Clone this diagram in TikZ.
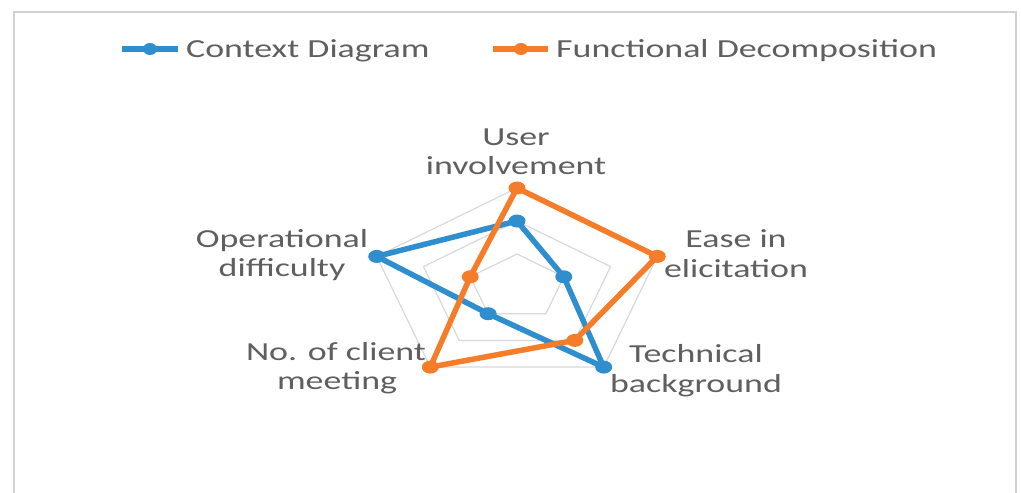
\documentclass[tikz,border=0pt]{standalone}
\usepackage{fontspec}
\setmainfont{Carlito}
\newfontfamily\labfont[FakeStretch=1.38]{Carlito}
\usetikzlibrary{shapes.geometric}
\definecolor{cdblue}{RGB}{46,142,206}
\definecolor{fdorange}{RGB}{245,125,42}
\definecolor{txtgray}{RGB}{95,95,95}
\definecolor{gridgray}{RGB}{217,217,217}
\definecolor{framegray}{RGB}{210,210,210}
\tikzset{
  lab/.style={font=\labfont\fontsize{26}{30}\selectfont, text=txtgray, align=center, inner sep=0pt},
  gridline/.style={draw=gridgray, line width=1.2pt, line join=miter},
  serblue/.style={draw=cdblue, line width=5.5pt, line join=round},
  serorange/.style={draw=fdorange, line width=5.5pt, line join=round},
  mkblue/.style={ellipse, fill=cdblue, minimum width=17pt, minimum height=13pt, inner sep=0pt},
  mkorange/.style={ellipse, fill=fdorange, minimum width=17pt, minimum height=13pt, inner sep=0pt},
  legmkblue/.style={ellipse, fill=cdblue, minimum width=14pt, minimum height=12pt, inner sep=0pt},
  legmkorange/.style={ellipse, fill=fdorange, minimum width=14pt, minimum height=12pt, inner sep=0pt},
}
\begin{document}
\begin{tikzpicture}[x=1pt,y=-1pt]
\useasboundingbox (0,0) rectangle (1021,493);
\fill[white] (0,0) rectangle (1021,493);
% frame
\draw[framegray, line width=2.5pt] (14,12) rectangle (1016,510);
% geometry: centre (517,287), Rx=147.5, Ry=99, three levels
\def\cx{517}\def\cy{287}\def\rx{49.17}\def\ry{33}
% axis angles: user 90, ease 18, tech -54, client -126, oper 162
\foreach \lev in {1,2,3}{
  \draw[gridline] ({\cx+\rx*\lev*cos(90)},{\cy-\ry*\lev*sin(90)})
    -- ({\cx+\rx*\lev*cos(18)},{\cy-\ry*\lev*sin(18)})
    -- ({\cx+\rx*\lev*cos(-54)},{\cy-\ry*\lev*sin(-54)})
    -- ({\cx+\rx*\lev*cos(-126)},{\cy-\ry*\lev*sin(-126)})
    -- ({\cx+\rx*\lev*cos(162)},{\cy-\ry*\lev*sin(162)}) -- cycle;
}
% data points: Context Diagram (blue): 2,1,3,1,3
\coordinate (b1) at ({\cx+\rx*2*cos(90)},{\cy-\ry*2*sin(90)});
\coordinate (b2) at ({\cx+\rx*1*cos(18)},{\cy-\ry*1*sin(18)});
\coordinate (b3) at ({\cx+\rx*3*cos(-54)},{\cy-\ry*3*sin(-54)});
\coordinate (b4) at ({\cx+\rx*1*cos(-126)},{\cy-\ry*1*sin(-126)});
\coordinate (b5) at ({\cx+\rx*3*cos(162)},{\cy-\ry*3*sin(162)});
% Functional Decomposition (orange): 3,3,2,3,1
\coordinate (o1) at ({\cx+\rx*3*cos(90)},{\cy-\ry*3*sin(90)});
\coordinate (o2) at ({\cx+\rx*3*cos(18)},{\cy-\ry*3*sin(18)});
\coordinate (o3) at ({\cx+\rx*2*cos(-54)},{\cy-\ry*2*sin(-54)});
\coordinate (o4) at ({\cx+\rx*3*cos(-126)},{\cy-\ry*3*sin(-126)});
\coordinate (o5) at ({\cx+\rx*1*cos(162)},{\cy-\ry*1*sin(162)});
% series lines
\draw[serblue] (b1) -- (b2) -- (b3) -- (b4) -- (b5) -- cycle;
\foreach \i in {1,...,5}{\node[mkblue] (mb\i) at (b\i) {};}
\draw[serorange] (o1) -- (o2) -- (o3) -- (o4) -- (o5) -- cycle;
\foreach \i in {1,...,5}{\node[mkorange] (mo\i) at (o\i) {};}
% axis labels
\node[lab, anchor=base] (lu1) at (516,145) {User};
\node[lab, anchor=base] (lu2) at (516,174) {involvement};
\node[lab, anchor=base] (le1) at (736,247) {Ease in};
\node[lab, anchor=base] (le2) at (736,277) {elicitation};
\node[lab, anchor=base] (lt1) at (696,362) {Technical};
\node[lab, anchor=base] (lt2) at (696,392) {background};
\node[lab, anchor=base] (lc1) at (336,360) {No. of client};
\node[lab, anchor=base] (lc2) at (337,389) {meeting};
\node[lab, anchor=base] (lo1) at (282,247) {Operational};
\node[lab, anchor=base] (lo2) at (282,276) {difficulty};
% legend
\coordinate (lbA) at (122,49);
\coordinate (lbB) at (178,49);
\draw[draw=cdblue, line width=5.5pt] (lbA) -- (lbB);
\node[legmkblue] (lbm) at (150,49) {};
\node[lab, anchor=base west] (lbt) at (186,57) {Context Diagram};
\coordinate (loA) at (493,49);
\coordinate (loB) at (548,49);
\draw[draw=fdorange, line width=5.5pt] (loA) -- (loB);
\node[legmkorange] (lom) at (521,49) {};
\node[lab, anchor=base west] (lot) at (556,57) {Functional Decomposition};
\end{tikzpicture}
\end{document}
